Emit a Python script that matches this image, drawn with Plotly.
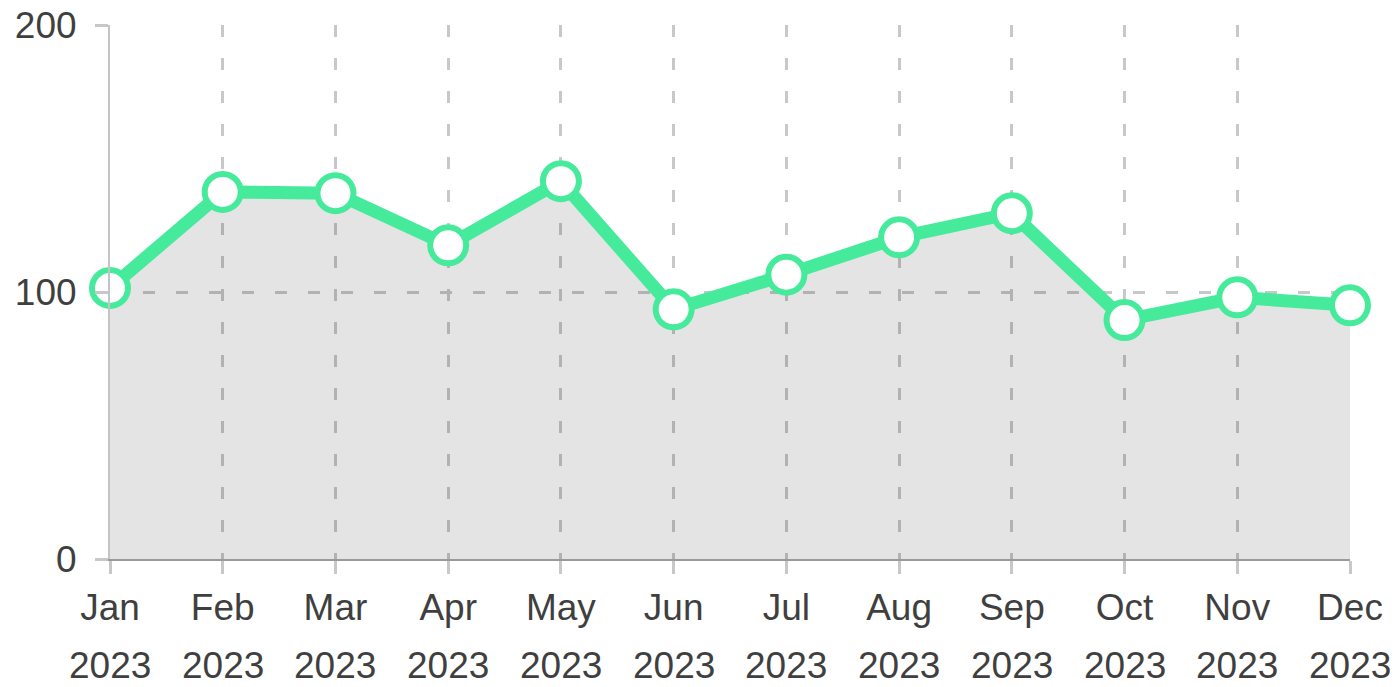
import plotly.graph_objects as go

months = ["Jan", "Feb", "Mar", "Apr", "May", "Jun", "Jul", "Aug", "Sep", "Oct", "Nov", "Dec"]
years = ["2023"] * 12
values = [101.5, 137.5, 137, 117.5, 141.5, 93.5, 106.5, 120.5, 129.5, 89.5, 98, 95]
y_ticks = [0, 100, 200]

FONT = "Liberation Sans, Arial, sans-serif"
TXT = "#3f3f3f"
GREEN = "#46EA9B"
GRID = "#c8c8c8"
FS = 37

x_idx = list(range(len(months)))

fig = go.Figure()
fig.add_trace(go.Scatter(
    x=x_idx, y=values, mode="lines+markers",
    fill="tozeroy", fillcolor="rgba(0,0,0,0.105)",
    line=dict(color=GREEN, width=13),
    marker=dict(size=36, color="white", line=dict(color=GREEN, width=6)),
    cliponaxis=False, showlegend=False, hoverinfo="x+y",
))

for i, yr in enumerate(years):
    fig.add_annotation(x=i, y=0, xref="x", yref="paper", text=yr, showarrow=False,
                       yanchor="middle", yshift=-106,
                       font=dict(family=FONT, size=FS, color=TXT))

fig.update_layout(
    width=1398, height=687,
    margin=dict(l=110, r=48, t=25, b=128),
    paper_bgcolor="white", plot_bgcolor="white",
    font=dict(family=FONT, size=FS, color=TXT),
)
fig.update_xaxes(
    range=[0, 11], tickmode="array", tickvals=x_idx, ticktext=months,
    showgrid=True, gridcolor=GRID, gridwidth=2.5, griddash="12px,21px",
    showline=True, linecolor="#9a9a9a", linewidth=2,
    ticks="outside", ticklen=13, tickwidth=2.5, tickcolor=GRID,
    zeroline=False, ticklabelstandoff=2, automargin=False,
)
fig.update_yaxes(
    range=[0, 200], tickmode="array", tickvals=y_ticks,
    showgrid=True, gridcolor=GRID, gridwidth=2.5, griddash="12px,21px",
    showline=True, linecolor="#c4c4c4", linewidth=2,
    ticks="outside", ticklen=13, tickwidth=2.5, tickcolor=GRID,
    zeroline=False, ticklabelstandoff=11, automargin=False,
)

fig.write_html("out.html", config={"displayModeBar": False},
               post_script="document.body.style.margin='0';document.body.style.overflow='hidden';")
